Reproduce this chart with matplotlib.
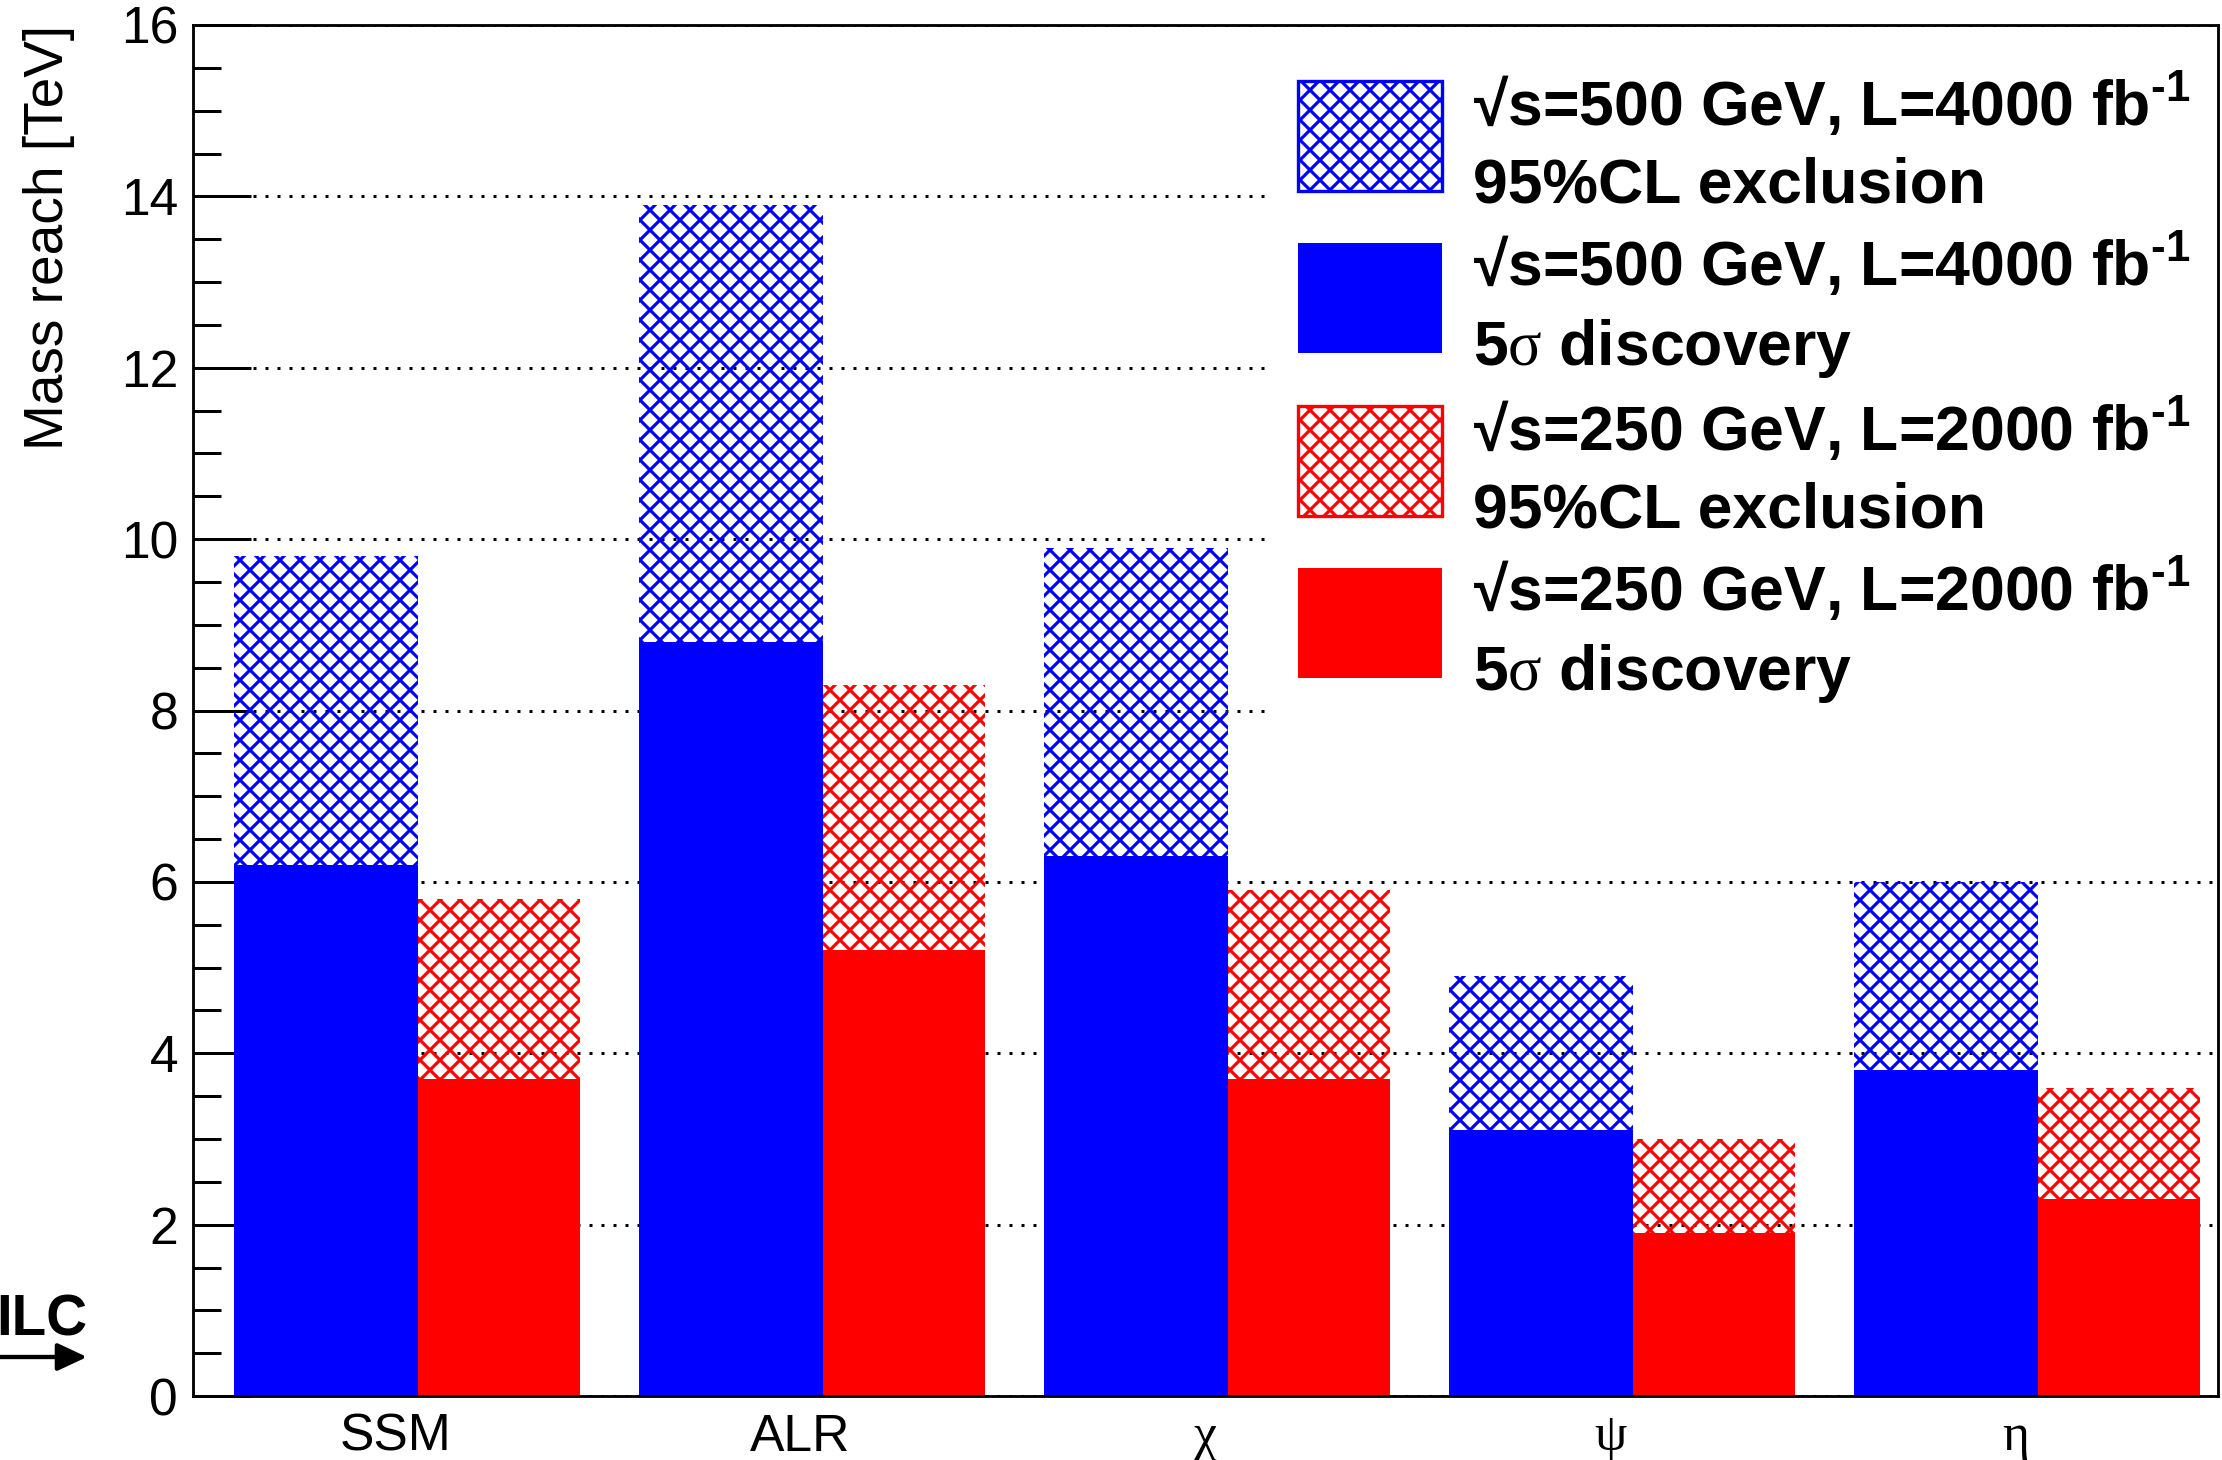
import matplotlib.pyplot as plt
from matplotlib.legend_handler import HandlerPatch
from matplotlib.patches import Rectangle
from matplotlib.ticker import MultipleLocator
import numpy as np

# Z' models on the x axis
models = ["SSM", "ALR", "χ", "ψ", "η"]

# Mass reach in TeV
excl_500 = [9.8, 13.9, 9.9, 4.9, 6.0]   # sqrt(s)=500 GeV, 95%CL exclusion
disc_500 = [6.2, 8.8, 6.3, 3.1, 3.8]    # sqrt(s)=500 GeV, 5 sigma discovery
excl_250 = [5.8, 8.3, 5.9, 3.0, 3.6]    # sqrt(s)=250 GeV, 95%CL exclusion
disc_250 = [3.7, 5.2, 3.7, 1.9, 2.3]    # sqrt(s)=250 GeV, 5 sigma discovery

labels = [
    "√s=500 GeV, L=4000 fb$^{\\text{-1}}$\n95%CL exclusion",
    "√s=500 GeV, L=4000 fb$^{\\text{-1}}$\n5$\\mathsf{\\sigma}$ discovery",
    "√s=250 GeV, L=2000 fb$^{\\text{-1}}$\n95%CL exclusion",
    "√s=250 GeV, L=2000 fb$^{\\text{-1}}$\n5$\\mathsf{\\sigma}$ discovery",
]

plt.rcParams['font.family'] = ['Liberation Sans', 'DejaVu Sans']
plt.rcParams['mathtext.fontset'] = 'custom'
plt.rcParams['mathtext.rm'] = 'Liberation Sans:bold'
plt.rcParams['mathtext.it'] = 'Liberation Sans:bold'
plt.rcParams['mathtext.bf'] = 'Liberation Sans:bold'
plt.rcParams['mathtext.sf'] = 'Liberation Serif'
plt.rcParams['hatch.linewidth'] = 1.9

dpi = 120
fig = plt.figure(figsize=(2222 / dpi, 1460 / dpi), dpi=dpi)
ax = fig.add_axes([0.0869, 0.0438, 0.9113, 0.9391])

x = np.arange(len(models))
w_blue, w_red = 0.455, 0.40

# hatched part: exclusion above discovery, solid part: discovery
h1 = ax.bar(x + 0.1, np.subtract(excl_500, disc_500), bottom=disc_500, width=w_blue,
            align='edge', facecolor='none', edgecolor='blue', hatch='xx', linewidth=0)
h2 = ax.bar(x + 0.1, disc_500, width=w_blue, align='edge', color='blue', linewidth=0)
h3 = ax.bar(x + 0.1 + w_blue, np.subtract(excl_250, disc_250), bottom=disc_250, width=w_red,
            align='edge', facecolor='none', edgecolor='red', hatch='xx', linewidth=0)
h4 = ax.bar(x + 0.1 + w_blue, disc_250, width=w_red, align='edge', color='red', linewidth=0)

ax.set_xlim(0, len(models))
ax.set_ylim(0, 16)
ax.set_axisbelow(True)
ax.yaxis.grid(True, which='major', color='black', linestyle=(0, (1, 3)), linewidth=1.8)

ax.yaxis.set_major_locator(MultipleLocator(2))
ax.yaxis.set_minor_locator(MultipleLocator(0.5))
ax.tick_params(axis='y', which='major', direction='in', length=35, width=1.8,
               labelsize=31, pad=9)
ax.tick_params(axis='y', which='minor', direction='in', length=17, width=1.8)
ax.set_xticks(x + 0.5, models)
ax.tick_params(axis='x', length=0, labelsize=31, pad=10)
for lab in ax.get_xticklabels():
    if lab.get_text() not in ("SSM", "ALR"):
        lab.set_fontfamily('Liberation Serif')
        lab.set_fontsize(31)
for s in ax.spines.values():
    s.set_linewidth(1.7)

ax.set_ylabel("Mass reach [TeV]", fontsize=33, ha='right', va='center')
ax.yaxis.set_label_coords(-0.071, 1.0)


def legend_box(legend, orig_handle, xdescent, ydescent, width, height, fontsize):
    # slightly taller box, raised against the two-line label
    return Rectangle((-xdescent, -ydescent + 4.3), width, height + 3.3)


leg = ax.legend([h1.patches[0], h2.patches[0], h3.patches[0], h4.patches[0]], labels,
                loc='upper left', bbox_to_anchor=(0.5302, 0.9907), bbox_transform=ax.transAxes,
                borderaxespad=0, frameon=True, fancybox=False, facecolor='white',
                edgecolor='none', framealpha=1, borderpad=0.5,
                handlelength=2.3, handleheight=2.2, handletextpad=0.5,
                labelspacing=0.22,
                handler_map={Rectangle: HandlerPatch(patch_func=legend_box)},
                prop={'family': ['Liberation Sans', 'DejaVu Sans'], 'weight': 'bold', 'size': 37.5})
leg.set_zorder(2)
for t in leg.get_texts():
    t.set_linespacing(1.4)
for hnd in leg.legend_handles[::2]:
    hnd.set_linewidth(2)

# ILC logo in the lower left corner
fig.text(87 / 2222, (1460 - 1335) / 1460, "ILC", ha='right', va='baseline',
         fontsize=34, fontweight='bold')
ax.annotate('', xy=(87, 1460 - 1357), xytext=(0, 1460 - 1357),
            xycoords='figure pixels', textcoords='figure pixels',
            arrowprops=dict(arrowstyle='-|>,head_length=15,head_width=7', mutation_scale=1,
                            lw=2.6, color='black', shrinkA=0, shrinkB=0))

fig.savefig("out.png", dpi=dpi)
